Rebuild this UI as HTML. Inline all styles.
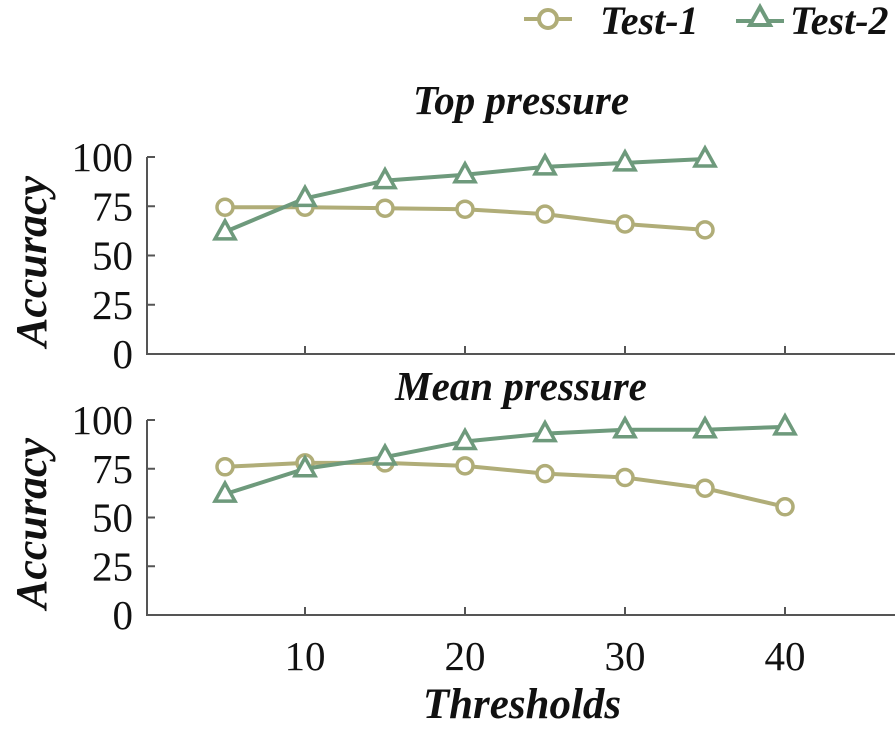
<!DOCTYPE html>
<html><head><meta charset="utf-8"><style>
html,body{margin:0;padding:0;background:#fff;}
svg text{font-family:"Liberation Serif",serif;fill:#111;}
.b{font-weight:bold;font-style:italic;}
</style></head><body>
<svg id="chart" width="896" height="730" viewBox="0 0 896 730"></svg>
<script>
const xsTop=[5,10,15,20,25,30,35];
const xsBot=[5,10,15,20,25,30,35,40];
const top1=[74.5,74.5,74,73.5,71,66,63];
const top2=[62,79,88,91,95,97,99];
const bot1=[76,78,78,76.5,72.5,70.5,65,55.5];
const bot2=[62,75,81,89,93,95,95,96.5];
const yTicks=[0,25,50,75,100];
const xTicks=[10,20,30,40];
const C1='#b0ad78',C2='#6e9a7c';
const svg=document.getElementById('chart');
const NS='http://www.w3.org/2000/svg';
function mk(t,a,p){const e=document.createElementNS(NS,t);for(const k in a)e.setAttribute(k,a[k]);(p||svg).appendChild(e);return e;}
const xs=v=>145+v*16;
function panel(name,y0,y100,xv,s1,s2,title,titleY){
  const g=mk('g',{});
  
  
  const ys=v=>y0+(y100-y0)*v/100;
  const ax=mk('path',{d:`M147,${y100} V${y0} H895`,stroke:'#555',fill:'none','stroke-width':2},g);
  
  
  yTicks.forEach(v=>{
    const t=mk('line',{x1:147,x2:155,y1:ys(v),y2:ys(v),stroke:'#555','stroke-width':2},g);
    
    
    const l=mk('text',{x:133,y:ys(v)+14,'font-size':41,'text-anchor':'end'},g);l.textContent=v;
    
    
  });
  xTicks.forEach(v=>{
    const t=mk('line',{x1:xs(v),x2:xs(v),y1:y0,y2:y0-8,stroke:'#555','stroke-width':2},g);
    
    
  });
  const tt=mk('text',{x:521,y:titleY,'font-size':41,'text-anchor':'middle',class:'b'},g);tt.textContent=title;
  
  
  const yl=mk('text',{transform:`translate(46,${(y0+y100)/2+6}) rotate(-90)`,'font-size':44,'text-anchor':'middle',class:'b'},g);yl.textContent='Accuracy';
  
  
  [[s1,C1,'circle'],[s2,C2,'tri']].forEach(([s,c,m],si)=>{
    const n=Math.min(s.length,xv.length);
    const pts=[];for(let i=0;i<n;i++)pts.push(xs(xv[i])+','+ys(s[i]));
    const pl=mk('polyline',{points:pts.join(' '),stroke:c,'stroke-width':4,fill:'none'},g);
    
    
    for(let i=0;i<n;i++){
      const x=xs(xv[i]),y=ys(s[i]);let e;
      if(m==='circle')e=mk('circle',{cx:x,cy:y,r:8,stroke:c,'stroke-width':3.5,fill:'#fff'},g);
      else e=mk('polygon',{points:`${x},${y-11} ${x-10},${y+7} ${x+10},${y+7}`,stroke:c,'stroke-width':3.5,fill:'#fff'},g);
      
      
    }
  });
}
panel('top-pressure-panel',354,157,xsTop,top1,top2,'Top pressure',114);
panel('mean-pressure-panel',615,420,xsBot,bot1,bot2,'Mean pressure',400);
xTicks.forEach(v=>{
  const l=mk('text',{x:xs(v),y:670,'font-size':41,'text-anchor':'middle'});l.textContent=v;
  
  
});
const xt=mk('text',{x:522,y:718,'font-size':43,'text-anchor':'middle',class:'b'});xt.textContent='Thresholds';


// legend
const lg=mk('g',{});


mk('line',{x1:524,x2:572,y1:19,y2:19,stroke:C1,'stroke-width':4},lg);
mk('circle',{cx:548,cy:19,r:9,stroke:C1,'stroke-width':4,fill:'#fff'},lg);
const t1=mk('text',{x:600,y:34,'font-size':40,class:'b'},lg);t1.textContent='Test-1';


mk('line',{x1:736,x2:784,y1:21,y2:21,stroke:C2,'stroke-width':4},lg);
mk('polygon',{points:'760,7 750,25 770,25',stroke:C2,'stroke-width':4,fill:'#fff'},lg);
const t2=mk('text',{x:790,y:34,'font-size':40,class:'b'},lg);t2.textContent='Test-2';


</script>
</body></html>
